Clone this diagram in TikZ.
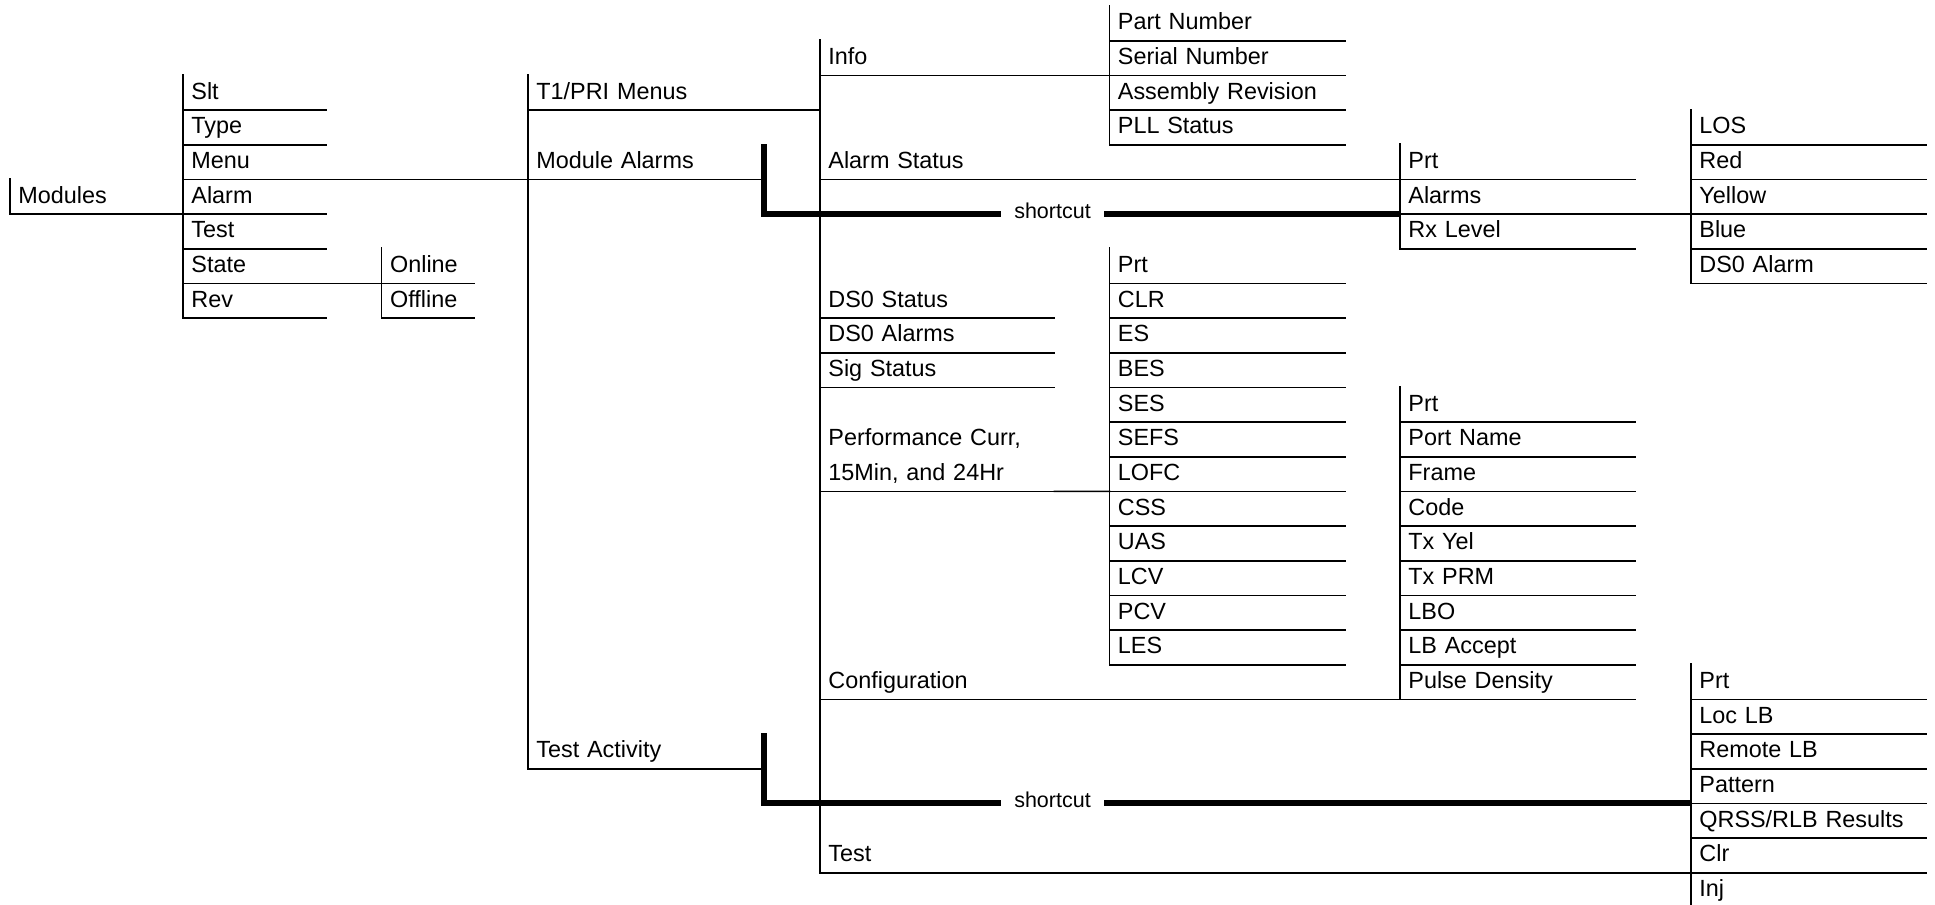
\documentclass[tikz,border=0pt]{standalone}
\usepackage{fontspec}
\setmainfont{Liberation Sans}
\newcommand\mainfs{\fontsize{11.7pt}{17.3333pt}\selectfont}
\newcommand\cutfs{\fontsize{10.75pt}{12pt}\selectfont}
\begin{document}
\begin{tikzpicture}[x=0.5pt,y=-17.3333pt,
  every node/.style={font=\mainfs},
  rule/.style={line width=0.75pt, line cap=rect},
  cut/.style={line width=3pt},
  cutlabel/.style={anchor=mid, inner xsep=6.6pt, inner ysep=0pt, font=\cutfs},
  item/.style={anchor=north west, inner xsep=4pt, inner ysep=0pt,
    text height=12.033pt, text depth=5.3pt, align=left},
  c0/.style={item,text width=78.5pt},
  c1/.style={item,text width=63.15pt},
  c2/.style={item,text width=37.8pt},
  c3/.style={item,text width=109.75pt},
  c4/.style={item,text width=108.8pt},
  c5/.style={item,text width=109.25pt},
  c6/.style={item,text width=109.25pt},
  c7/.style={item,text width=109pt},
]
\useasboundingbox (0,-0.15385) rectangle (1935,25.952);
\clip (0,-0.15385) rectangle (1935,25.952);

% column 0
\node[c0] (mod) at (10,5) {Modules};
% column 1
\node[c1] (slt)   at (183,2) {Slt};
\node[c1] (type)  at (183,3) {Type};
\node[c1] (menu)  at (183,4) {Menu};
\node[c1] (alarm) at (183,5) {Alarm};
\node[c1] (test)  at (183,6) {Test};
\node[c1] (state) at (183,7) {State};
\node[c1] (rev)   at (183,8) {Rev};
% column 2
\node[c2] (online)  at (381.7,7) {Online};
\node[c2] (offline) at (381.7,8) {Offline};
% column 3
\node[c3] (t1)     at (528,2)  {T1/PRI Menus};
\node[c3] (malarm) at (528,4)  {Module Alarms};
\node[c3] (tact)   at (528,21) {Test Activity};
% column 4
\node[c4] (info)  at (820,1)  {Info};
\node[c4] (astat) at (820,4)  {Alarm Status};
\node[c4] (dsst)  at (820,8)  {DS0 Status};
\node[c4] (dsal)  at (820,9)  {DS0 Alarms};
\node[c4] (sigst) at (820,10) {Sig Status};
\node[c4, text depth=22.633pt] (perf) at (820,12) {Performance Curr,\\15Min, and 24Hr};
\node[c4] (conf)  at (820,19) {Configuration};
\node[c4] (tst)   at (820,24) {Test};
% column 5
\node[c5] (pn)   at (1109.5,0) {Part Number};
\node[c5] (sn)   at (1109.5,1) {Serial Number};
\node[c5] (ar)   at (1109.5,2) {Assembly Revision};
\node[c5] (pll)  at (1109.5,3) {PLL Status};
\node[c5] (eprt) at (1109.5,7)  {Prt};
\node[c5] (clr)  at (1109.5,8)  {CLR};
\node[c5] (es)   at (1109.5,9)  {ES};
\node[c5] (bes)  at (1109.5,10) {BES};
\node[c5] (ses)  at (1109.5,11) {SES};
\node[c5] (sefs) at (1109.5,12) {SEFS};
\node[c5] (lofc) at (1109.5,13) {LOFC};
\node[c5] (css)  at (1109.5,14) {CSS};
\node[c5] (uas)  at (1109.5,15) {UAS};
\node[c5] (lcv)  at (1109.5,16) {LCV};
\node[c5] (pcv)  at (1109.5,17) {PCV};
\node[c5] (les)  at (1109.5,18) {LES};
% column 6
\node[c6] (aprt)  at (1400,4) {Prt};
\node[c6] (alms)  at (1400,5) {Alarms};
\node[c6] (rxl)   at (1400,6) {Rx Level};
\node[c6] (cprt)  at (1400,11) {Prt};
\node[c6] (pname) at (1400,12) {Port Name};
\node[c6] (frame) at (1400,13) {Frame};
\node[c6] (code)  at (1400,14) {Code};
\node[c6] (txyel) at (1400,15) {Tx Yel};
\node[c6] (txprm) at (1400,16) {Tx PRM};
\node[c6] (lbo)   at (1400,17) {LBO};
\node[c6] (lbacc) at (1400,18) {LB Accept};
\node[c6] (pulse) at (1400,19) {Pulse Density};
% column 7
\node[c7] (los)     at (1691,3) {LOS};
\node[c7] (red)     at (1691,4) {Red};
\node[c7] (yellow)  at (1691,5) {Yellow};
\node[c7] (blue)    at (1691,6) {Blue};
\node[c7] (dsoal)   at (1691,7) {DS0 Alarm};
\node[c7] (tprt)    at (1691,19) {Prt};
\node[c7] (loclb)   at (1691,20) {Loc LB};
\node[c7] (remlb)   at (1691,21) {Remote LB};
\node[c7] (pattern) at (1691,22) {Pattern};
\node[c7] (qrss)    at (1691,23) {QRSS/RLB Results};
\node[c7] (clrt)    at (1691,24) {Clr};
\node[c7] (inj)     at (1691,25) {Inj};

% group verticals
\foreach \a/\b in {mod/mod, slt/rev, online/offline, t1/tact, info/tst, pn/pll,
  eprt/les, aprt/rxl, cprt/pulse, los/dsoal, tprt/inj}
  \draw[rule] (\a.north west) -- (\b.south west);

% underlines
\foreach \n in {mod, slt, type, menu, alarm, test, state, rev, online, offline,
  t1, malarm, tact, info, astat, dsst, dsal, sigst, perf, conf, tst,
  pn, sn, ar, pll, eprt, clr, es, bes, ses, sefs, lofc, css, uas, lcv, pcv, les,
  aprt, alms, rxl, cprt, pname, frame, code, txyel, txprm, lbo, lbacc, pulse,
  los, red, yellow, blue, dsoal, tprt, loclb, remlb, pattern, qrss, clrt, inj}
  \draw[rule] (\n.south west) -- (\n.south east);

% connectors
\draw[rule] (menu.south east) -- (malarm.south west);
\draw[rule] (state.south east) -- (online.south west);
\draw[rule] (t1.south east) -- (t1.south east -| info.west);
\draw[rule] (info.south east) -- (sn.south west);
\draw[rule] (astat.south east) -- (aprt.south west);
\draw[rule] (alms.south east) -- (yellow.south west);
\draw[rule] (perf.south east) -- (lofc.south west);
\draw[rule] (conf.south east) -- (pulse.south west);
\draw[rule] (tst.south east) -- (clrt.south west);

% shortcuts
\node[cutlabel] (sc1) at (1052.5,6) {shortcut};
\draw[cut] (malarm.north east) |- (sc1.west |- alms.south west);
\draw[cut] (sc1.east |- alms.south west) -- (alms.south west);

\node[cutlabel] (sc2) at (1052.5,23) {shortcut};
\draw[cut] (tact.north east) |- (sc2.west |- qrss.north west);
\draw[cut] (sc2.east |- qrss.north west) -- (qrss.north west);
\end{tikzpicture}
\end{document}
